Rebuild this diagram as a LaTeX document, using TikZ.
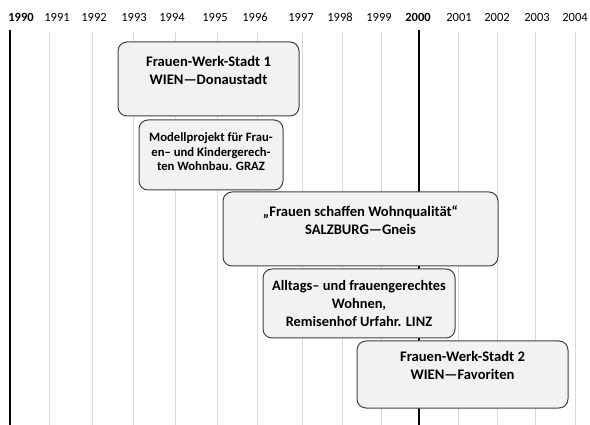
\documentclass[tikz,border=0pt]{standalone}
\usepackage{fontspec}
\setmainfont{Carlito}
\usetikzlibrary{positioning}
\definecolor{boxfill}{HTML}{F2F2F2}
\definecolor{boxline}{HTML}{404040}
\definecolor{gridgray}{HTML}{D9D9D9}
\tikzset{
yearline/.style={draw=gridgray, line width=0.9pt},
mainline/.style={draw=black, line width=2pt},
year/.style={inner sep=0pt, font=\fontsize{12.5pt}{14pt}\selectfont},
project/.style={
  draw=boxline,
  fill=boxfill,
  line width=1pt,
  rounded corners=9pt,
  align=center,
  inner sep=2pt,
  font=\bfseries\fontsize{14.6pt}{18pt}\selectfont
  },
smalltext/.style={font=\bfseries\fontsize{12.7pt}{14.5pt}\selectfont},
midtext/.style={font=\bfseries\fontsize{14.4pt}{18pt}\selectfont}
}

\begin{document}
\begin{tikzpicture}[x=1pt, y=-1pt]
\useasboundingbox (0,0) rectangle (590,425);

% time axis
\foreach \yr/\x/\lx in {1991/49/57, 1992/92/94, 1993/133/134, 1994/175/172, 1995/217/215, 1996/257/255, 1997/302/301, 1998/342/340, 1999/381/379, 2001/458/459, 2002/497/497, 2003/535/537, 2004/575/575}{
  \draw[yearline] (\x,32) -- (\x,425);
  \node[year] (y\yr) at (\lx,17) {\yr};
}
\draw[mainline] (10,30) -- (10,425);
\draw[mainline] (419,30) -- (419,425);
\node[year, font=\bfseries\fontsize{12.5pt}{14pt}\selectfont] (y1990) at (21,17) {1990};
\node[year, font=\bfseries\fontsize{12.5pt}{14pt}\selectfont] (y2000) at (418,17) {2000};

% projects
\node[project, minimum width=181pt, minimum height=74pt] (fws1) at (208.5,79)
  {Frauen-Werk-Stadt 1\\WIEN—Donaustadt\\ ~};
\node[project, smalltext, minimum width=144pt, minimum height=70pt] (graz) at (211,155)
  {Modellprojekt für Frau-\\en– und Kindergerech-\\ten Wohnbau. GRAZ\\[-8pt] ~};
\node[project, minimum width=275pt, minimum height=74pt] (salzburg) at (360.5,229)
  {„Frauen schaffen Wohnqualität“\\SALZBURG—Gneis\\ ~};
\node[project, midtext, minimum width=192pt, minimum height=69pt] (linz) at (359,303.5)
  {Alltags– und frauengerechtes\\Wohnen,\\Remisenhof Urfahr. LINZ};
\node[project, minimum width=211pt, minimum height=67pt] (fws2) at (462.5,374.5)
  {Frauen-Werk-Stadt 2\\WIEN—Favoriten\\ ~};
\end{tikzpicture}
\end{document}
